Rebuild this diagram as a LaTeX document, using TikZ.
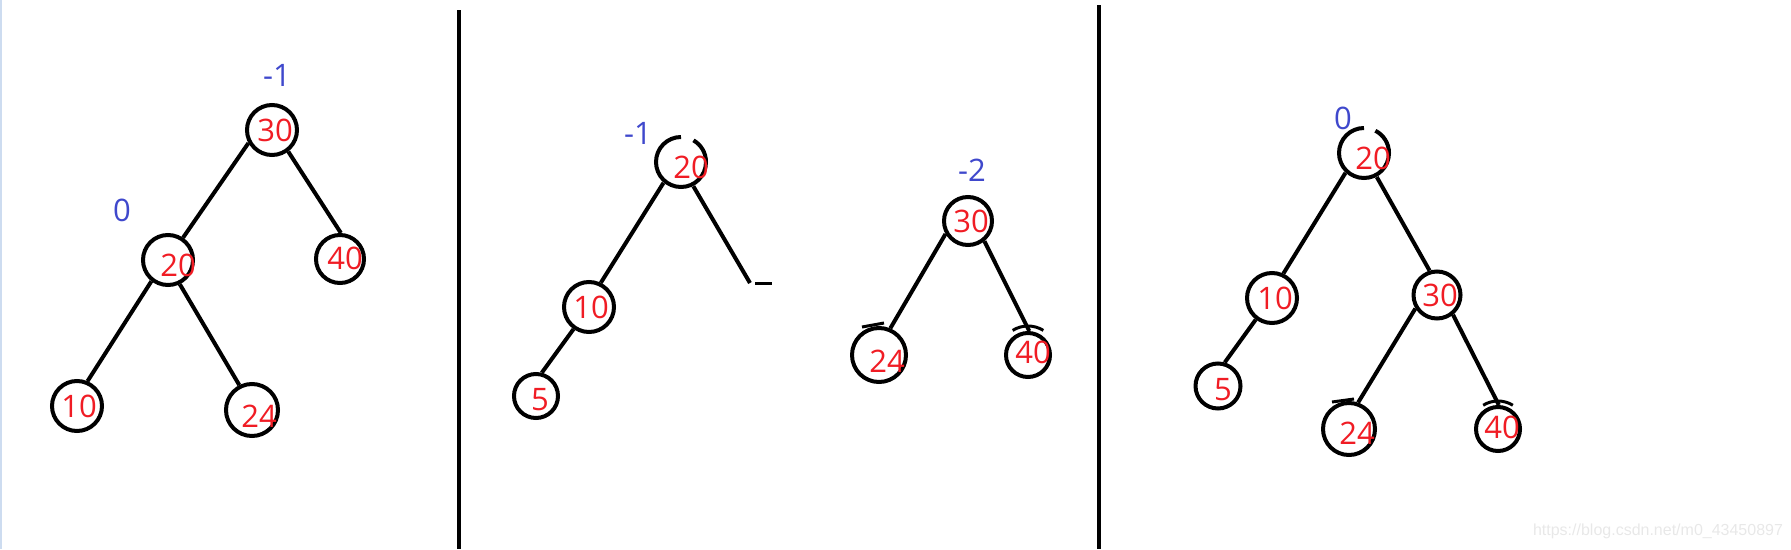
\documentclass[tikz,border=0pt]{standalone}
\usepackage{fontspec}
\setmainfont{Open Sans}
\newfontfamily\wmfont{Liberation Sans}
\newcommand\treefont{\fontsize{31}{31}\selectfont}
\definecolor{numred}{RGB}{240,28,36}
\definecolor{bfblue}{RGB}{63,72,204}
\definecolor{edgeblue}{RGB}{205,220,240}
\definecolor{wmgray}{RGB}{232,232,232}
\tikzset{
  edge/.style={line width=4pt, black},
  ring/.style={circle, draw=black, line width=4pt, inner sep=0pt},
  hole/.style={circle, inner sep=0pt},
  num/.style={text=numred, font=\treefont, inner sep=0pt},
  bf/.style={text=bfblue, font=\treefont, inner sep=0pt},
  divider/.style={line width=4pt, black},
}
\begin{document}
\begin{tikzpicture}[x=1pt,y=-1pt]
\useasboundingbox (0,0) rectangle (1791,549);
\fill[edgeblue] (0,0) rectangle (2,549);

% dividers
\draw[divider] (459,10) -- (459,549);
\draw[divider] (1099,5) -- (1099,549);

% ---------- panel 1 ----------
\node[ring, minimum size=50pt] (a30) at (272,130) {};
\node[ring, minimum size=50pt] (a20) at (168,260) {};
\node[ring, minimum size=48pt] (a40) at (340,259) {};
\node[ring, minimum size=50pt] (a10) at (77,406) {};
\node[ring, minimum size=52pt] (a24) at (252,410) {};
\draw[edge] (a30.209) -- (a20.56);
\draw[edge] (a30.307) -- (a40.88);
\draw[edge] (a20.232) -- (a10.67);
\draw[edge] (a20.296) -- (a24.117);
\node[num] (a30t) at (275,130) {30};
\node[num] (a20t) at (178,265) {20};
\node[num] (a40t) at (345,258) {40};
\node[num] (a10t) at (79,406) {10};
\node[num] (a24t) at (259,416) {24};
\node[bf] (a30b) at (277,75) {-1};
\node[bf] (a20b) at (122,210) {0};

% ---------- panel 2 ----------
\node[hole, minimum size=54pt] (b20) at (681,162) {};
\draw[line width=4pt] ([shift={(90:25pt)}]b20.center) arc[start angle=90, end angle=420, radius=25pt];
\node[ring, minimum size=50pt] (b10) at (589,307) {};
\node[ring, minimum size=44pt] (b5) at (536,396) {};
\coordinate (b20e) at (750,283);
\draw[edge] (b20.230) -- (b10.64);
\draw[edge] (b10.235) -- (b5.76);
\draw[edge] (b20.297) -- (b20e);
\draw[line width=3pt] (755,283) -- (772,283);
\node[num] (b20t) at (691,167) {20};
\node[num] (b10t) at (591,307) {10};
\node[num] (b5t) at (540,400) {5};
\node[bf] (b20b) at (638,133) {-1};

\node[ring, minimum size=48pt] (b30) at (968,221) {};
\node[ring, minimum size=54pt] (b24) at (879,355) {};
\node[ring, minimum size=44pt] (b40) at (1028,355) {};
\draw[line width=3pt] ([shift={(122:29pt)}]b40.center) arc[start angle=122, end angle=58, radius=29pt];
\draw[line width=3pt] (862,327) -- (884,323);
\draw[edge] (b30.210) -- (b24.67);
\draw[edge] (b30.309) -- (b40.87);
\node[num] (b30t) at (971,221) {30};
\node[num] (b24t) at (887,361) {24};
\node[num] (b40t) at (1033,352) {40};
\node[bf] (b30b) at (972,170) {-2};

% ---------- panel 3 ----------
\node[hole, minimum size=54pt] (c20) at (1364,153) {};
\draw[line width=4pt] ([shift={(90:25pt)}]c20.center) arc[start angle=90, end angle=423, radius=25pt];
\node[ring, minimum size=50pt] (c10) at (1272,298) {};
\node[ring, minimum size=47pt] (c30) at (1437,295) {};
\node[ring, minimum size=45pt] (c5) at (1218,386) {};
\node[ring, minimum size=52pt] (c24) at (1349,429) {};
\node[ring, minimum size=44pt] (c40) at (1498,429) {};
\draw[line width=3pt] ([shift={(122:28pt)}]c40.center) arc[start angle=122, end angle=58, radius=28pt];
\draw[line width=3pt] (1332,402) -- (1354,399);
\draw[edge] (c20.227) -- (c10.65);
\draw[edge] (c20.298) -- (c30.107);
\draw[edge] (c10.233) -- (c5.74);
\draw[edge] (c30.212) -- (c24.71);
\draw[edge] (c30.309) -- (c40.88);
\node[num] (c20t) at (1373,158) {20};
\node[num] (c10t) at (1275,298) {10};
\node[num] (c30t) at (1440,295) {30};
\node[num] (c5t) at (1223,390) {5};
\node[num] (c24t) at (1357,433) {24};
\node[num] (c40t) at (1502,427) {40};
\node[bf] (c20b) at (1343,118) {0};

% watermark
\node[font=\wmfont\fontsize{16}{16}\selectfont, text=wmgray, inner sep=0pt] (wm) at (1658,531) {https://blog.csdn.net/m0\_43450897};
\end{tikzpicture}
\end{document}
